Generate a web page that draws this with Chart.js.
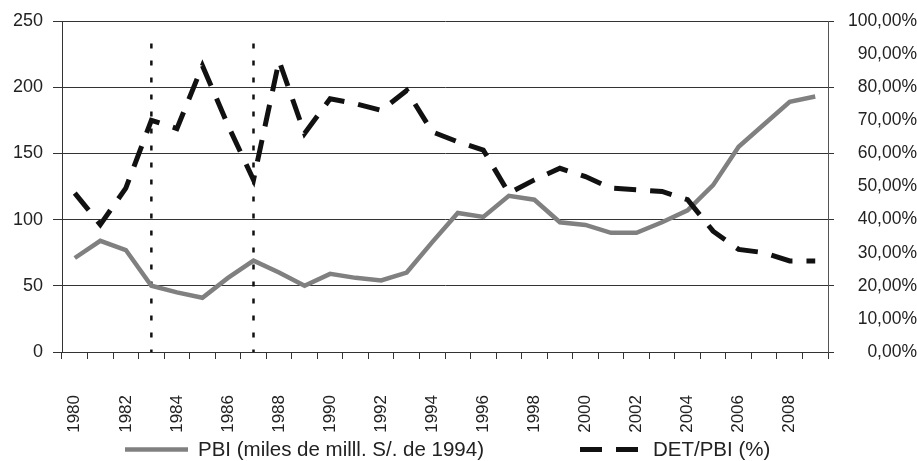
<!DOCTYPE html>
<html>
<head>
<meta charset="utf-8">
<style>
html,body{margin:0;padding:0;background:#ffffff;}
#wrap{width:917px;height:461px;}
</style>
<script src="https://cdn.jsdelivr.net/npm/chart.js@4.4.0/dist/chart.umd.min.js"></script>
</head>
<body>
<div id="wrap"><canvas id="c" width="917" height="461"></canvas></div>
<script>
// ---- data ----
const years = ['1980','1981','1982','1983','1984','1985','1986','1987','1988','1989',
               '1990','1991','1992','1993','1994','1995','1996','1997','1998','1999',
               '2000','2001','2002','2003','2004','2005','2006','2007','2008','2009'];
const pbi = [71, 84, 77, 50, 45, 41, 56, 69, 60, 50,
             59, 56, 54, 60, 83, 105, 102, 118, 115, 98,
             96, 90, 90, 98, 107, 126, 155, 172, 189, 193];
const detPbi = [48, 38.5, 49.5, 70, 67.5, 86.5, 68.5, 52, 88, 66,
                76.5, 75, 73, 79, 66.5, 63.5, 61, 48, 52, 55.5,
                53, 49.5, 49, 48.5, 46, 36.5, 31, 30, 27.5, 27.5];
const markerYears = ['1983', '1987'];
const markerTop = 233;
const leftTicks = [0, 50, 100, 150, 200, 250];
const rightTicks = [0, 10, 20, 30, 40, 50, 60, 70, 80, 90, 100];
const seriesLabels = ['PBI (miles de milll. S/. de 1994)', 'DET/PBI (%)'];

// ---- font detection (narrow font if installed) ----
function hasFont(name) {
  const c = document.createElement('canvas').getContext('2d');
  const s = 'mmmwwwl1980,00%';
  c.font = '40px monospace';
  const w0 = c.measureText(s).width;
  c.font = '40px "' + name + '", monospace';
  return c.measureText(s).width !== w0;
}
const narrow = hasFont('Liberation Sans Narrow');
const AXIS_FAMILY = narrow ? "'Liberation Sans Narrow', 'Liberation Sans', Arial, sans-serif"
                           : "'Liberation Sans', Arial, sans-serif";
const SZ_X = narrow ? 20 : 17;
const SZ_L = narrow ? 21 : 18;
const SZ_R = narrow ? 21.5 : 17.5;
const LEG_FAMILY = "'Liberation Sans', Arial, sans-serif";
const TXT = '#222222';

// ---- plugins ----
const markerPlugin = {
  id: 'markers',
  beforeDatasetsDraw(chart) {
    const {ctx, scales} = chart;
    const x = scales.x, y = scales.y;
    ctx.save();
    ctx.strokeStyle = '#111111';
    ctx.lineWidth = 2.5;
    ctx.setLineDash([5, 12]);
    markerYears.forEach(yr => {
      const px = x.getPixelForValue(years.indexOf(yr));
      ctx.beginPath();
      ctx.moveTo(px, y.getPixelForValue(markerTop));
      ctx.lineTo(px, y.getPixelForValue(0));
      ctx.stroke();
    });
    ctx.restore();
  }
};

const legendPlugin = {
  id: 'bottomLegend',
  afterDraw(chart) {
    const {ctx, chartArea} = chart;
    const ds = chart.data.datasets;
    const starts = [chartArea.left + 63, chartArea.left + 518];
    const boxW = 63, yLine = 449.5, yText = 456;
    ctx.save();
    ctx.font = '20.5px ' + LEG_FAMILY;
    ctx.fillStyle = TXT;
    ctx.textBaseline = 'alphabetic';
    ds.forEach((d, i) => {
      const x0 = starts[i];
      ctx.strokeStyle = d.borderColor;
      ctx.lineWidth = d.borderWidth;
      ctx.setLineDash(d.borderDash || []);
      ctx.beginPath();
      ctx.moveTo(x0, yLine);
      ctx.lineTo(x0 + boxW, yLine);
      ctx.stroke();
      ctx.setLineDash([]);
      ctx.fillText(d.label, x0 + boxW + 10, yText);
    });
    ctx.restore();
  }
};

// ---- chart ----
new Chart(document.getElementById('c'), {
  type: 'line',
  data: {
    labels: years,
    datasets: [
      {
        label: seriesLabels[0],
        data: pbi,
        yAxisID: 'y',
        borderColor: '#808080',
        borderWidth: 4.5,
        pointRadius: 0,
        tension: 0,
        fill: false,
        order: 2
      },
      {
        label: seriesLabels[1],
        data: detPbi,
        yAxisID: 'y1',
        borderColor: '#111111',
        borderWidth: 5,
        borderDash: [22, 14],
        pointRadius: 0,
        tension: 0,
        fill: false,
        order: 1
      }
    ]
  },
  options: {
    responsive: false,
    animation: false,
    devicePixelRatio: 1,
    layout: { padding: { top: 21, left: 0, right: 0, bottom: 0 } },
    plugins: {
      legend: { display: false },
      tooltip: { enabled: false },
      title: { display: false }
    },
    scales: {
      x: {
        type: 'category',
        offset: true,
        grid: { offset: true, drawOnChartArea: false, drawTicks: true, tickLength: 7, color: '#333333', lineWidth: 1 },
        border: { display: true, color: '#333333', width: 1 },
        ticks: {
          autoSkip: false,
          maxRotation: 90,
          minRotation: 90,
          padding: 36,
          color: TXT,
          font: { family: AXIS_FAMILY, size: SZ_X },
          callback: function(v, i) { return i % 2 === 0 ? years[i] : ''; }
        },
        afterFit: s => { s.height = 109; }
      },
      y: {
        position: 'left',
        min: 0,
        max: 250,
        afterBuildTicks: s => { s.ticks = leftTicks.map(v => ({ value: v })); },
        grid: { color: '#333333', lineWidth: 1, tickLength: 9 },
        border: { display: true, color: '#333333', width: 1 },
        ticks: {
          padding: 10,
          color: TXT,
          font: { family: AXIS_FAMILY, size: SZ_L },
          callback: v => String(v)
        },
        afterFit: s => { s.width = 62; }
      },
      y1: {
        position: 'right',
        min: 0,
        max: 100,
        afterBuildTicks: s => { s.ticks = rightTicks.map(v => ({ value: v })); },
        grid: {
          drawOnChartArea: false,
          tickLength: 6,
          lineWidth: 1,
          color: c => (c.tick && c.tick.value % 20 === 0) ? '#333333' : 'rgba(0,0,0,0)'
        },
        border: { display: true, color: '#555555', width: 1 },
        ticks: {
          padding: 1,
          crossAlign: 'far',
          color: TXT,
          font: { family: AXIS_FAMILY, size: SZ_R },
          callback: v => Number(v).toFixed(2).replace('.', ',') + '%'
        },
        afterFit: s => { s.width = 89; }
      }
    }
  },
  plugins: [markerPlugin, legendPlugin]
});
</script>
</body>
</html>
